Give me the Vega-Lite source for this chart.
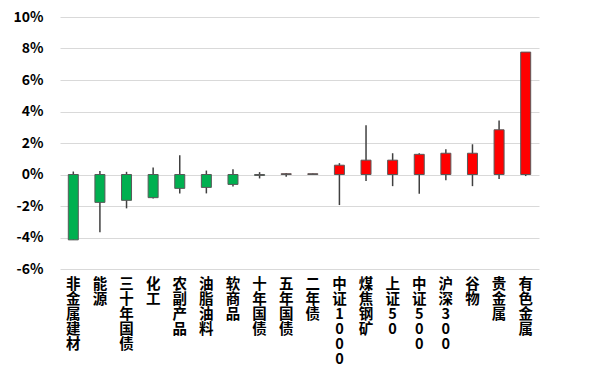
{
  "$schema": "https://vega.github.io/schema/vega-lite/v6.json",
  "autosize": "none",
  "width": 479,
  "height": 252,
  "padding": {"left": 60, "top": 17, "right": 58, "bottom": 101},
  "background": "white",
  "config": {"view": {"stroke": null}, "font": "Noto Sans CJK SC"},
  "data": {"values": [
    {"name": "非金属建材", "open": 0, "close": -0.0415, "high": 0.0019, "low": -0.0415},
    {"name": "能源", "open": 0, "close": -0.0177, "high": 0.0023, "low": -0.0366},
    {"name": "三十年国债", "open": 0, "close": -0.0164, "high": 0.0017, "low": -0.0215},
    {"name": "化工", "open": 0, "close": -0.0147, "high": 0.0044, "low": -0.0152},
    {"name": "农副产品", "open": 0, "close": -0.0088, "high": 0.0122, "low": -0.012},
    {"name": "油脂油料", "open": 0, "close": -0.0082, "high": 0.0025, "low": -0.012},
    {"name": "软商品", "open": 0, "close": -0.0063, "high": 0.0034, "low": -0.0076},
    {"name": "十年国债", "open": 0, "close": -0.0006, "high": 0.0015, "low": -0.0025},
    {"name": "五年国债", "open": 0, "close": 0.0005, "high": 0.001, "low": -0.0015},
    {"name": "二年债", "open": 0, "close": 0.0005, "high": 0.0006, "low": 0},
    {"name": "中证1000", "open": 0, "close": 0.0059, "high": 0.0072, "low": -0.0194},
    {"name": "煤焦钢矿", "open": 0, "close": 0.0091, "high": 0.0312, "low": -0.0042},
    {"name": "上证50", "open": 0, "close": 0.0091, "high": 0.0135, "low": -0.0074},
    {"name": "中证500", "open": 0, "close": 0.0128, "high": 0.0135, "low": -0.0122},
    {"name": "沪深300", "open": 0, "close": 0.0135, "high": 0.016, "low": -0.0036},
    {"name": "谷物", "open": 0, "close": 0.0135, "high": 0.0192, "low": -0.0074},
    {"name": "贵金属", "open": 0, "close": 0.0284, "high": 0.0343, "low": -0.0029},
    {"name": "有色金属", "open": 0, "close": 0.0777, "high": 0.0777, "low": -0.001}
  ]},
  "encoding": {
    "x": {
      "field": "name", "type": "nominal", "sort": null, "title": null,
      "scale": {"paddingInner": 0, "paddingOuter": 0},
      "axis": {
        "domain": false, "ticks": false, "labelAngle": 0,
        "labelExpr": "split(datum.label, '')",
        "labelFontSize": 14.5, "labelFontWeight": "bold", "labelColor": "black",
        "labelLineHeight": 15, "labelBaseline": "top", "labelPadding": 8,
        "labelOverlap": false,
        "labelFont": "Noto Sans CJK SC"
      }
    }
  },
  "layer": [
    {
      "mark": {"type": "rule", "color": "#404040", "strokeWidth": 1.5},
      "encoding": {
        "y": {
          "field": "low", "type": "quantitative", "title": null,
          "scale": {"domain": [-0.06, 0.1], "nice": false},
          "axis": {
            "values": [-0.06, -0.04, -0.02, 0, 0.02, 0.04, 0.06, 0.08, 0.1],
            "tickCount": 12,
            "labelExpr": "round(datum.value*100) + '%'",
            "labelOverlap": false,
            "domain": false, "ticks": false, "gridColor": "#d9d9d9", "gridWidth": 1,
            "labelFontSize": 14, "labelFontWeight": "bold", "labelColor": "black",
            "labelPadding": 17, "labelFont": "Noto Sans CJK SC"
          }
        },
        "y2": {"field": "high"}
      }
    },
    {
      "mark": {"type": "bar", "width": 10, "stroke": "#595959", "strokeWidth": 1},
      "encoding": {
        "y": {"field": "open", "type": "quantitative"},
        "y2": {"field": "close"},
        "color": {"condition": {"test": "datum.close >= 0", "value": "#ff0000"}, "value": "#00b050"}
      }
    }
  ]
}
